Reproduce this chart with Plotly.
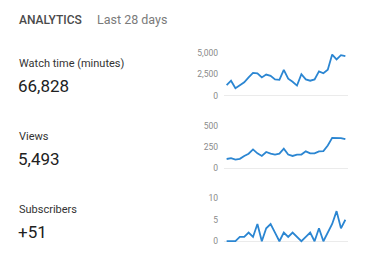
import plotly.graph_objects as go

days = list(range(1, 29))
watch_time = [1210, 1740, 870, 1250, 1550, 2120, 2650, 2610, 2120, 2460, 2310, 1890,
              1850, 3020, 1970, 1620, 1170, 2500, 1890, 1740, 1890, 2840, 2610, 3020,
              4800, 4240, 4730, 4620]
views = [110, 120, 102, 112, 146, 172, 222, 176, 146, 192, 172, 162,
         172, 230, 162, 146, 162, 162, 200, 176, 176, 200, 203, 268,
         358, 355, 355, 342]
subscribers = [0, 0, 0, 1, 1, 2, 1, 4, 0, 3, 4, 2, 0, 2, 1, 2, 1, 0, 1, 2,
               0, 3, 0, 2, 4, 7, 3, 5]

metric_names = ["Watch time (minutes)", "Views", "Subscribers"]
metric_totals = ["66,828", "5,493", "+51"]
tick_values = [[0, 2500, 5000], [0, 250, 500], [0, 5, 10]]
series = [watch_time, views, subscribers]

W, H = 370, 275
BLUE = "#2b86d2"
FONT = "Roboto"

fig = go.Figure()

x0_px, x1_px = 224, 348
row_top = [49.3, 124.3, 199.0]
row_zero = [93.3, 168.3, 243.3]
pad = 2.0

for i, (ys, tv) in enumerate(zip(series, tick_values)):
    top = tv[-1]
    span_px = row_zero[i] - row_top[i]
    lo = -top * pad / span_px
    bottom_px = row_zero[i] + pad
    dom = [1 - bottom_px / H, 1 - row_top[i] / H]
    xa = "x" if i == 0 else f"x{i+1}"
    ya = "y" if i == 0 else f"y{i+1}"
    fig.add_trace(go.Scatter(x=days, y=ys, mode="lines",
                             line=dict(color=BLUE, width=1.8),
                             xaxis=xa, yaxis=ya, showlegend=False,
                             hoverinfo="skip"))
    xkey = "xaxis" if i == 0 else f"xaxis{i+1}"
    ykey = "yaxis" if i == 0 else f"yaxis{i+1}"
    fig.update_layout({
        xkey: dict(domain=[x0_px / W, x1_px / W], range=[0.4, 28.6],
                   showgrid=False, zeroline=False, showticklabels=False,
                   showline=False, anchor=ya, fixedrange=True),
        ykey: dict(domain=dom, range=[lo, top], tickvals=tv,
                   tickformat=",", showgrid=False, zeroline=True,
                   zerolinecolor="#ebebeb", zerolinewidth=1,
                   showline=False, ticks="", ticklen=0,
                   ticklabelstandoff=5,
                   tickfont=dict(family=FONT, size=8.5, color="#8a8a8a"),
                   anchor=xa, fixedrange=True),
    })

ann = []
ann.append(dict(x=17 / W, y=1 - 15 / H, text="ANALYTICS",
                font=dict(family=FONT, size=12, color="#4a4a4a", weight=500)))
ann.append(dict(x=95 / W, y=1 - 15 / H, text="Last 28 days",
                font=dict(family=FONT, size=12.5, color="#7a7a7a")))
for i in range(3):
    base = 75 * i
    ann.append(dict(x=17 / W, y=1 - (60.5 + base) / H, text=metric_names[i],
                    font=dict(family=FONT, size=11, color="#333333")))
    ann.append(dict(x=16 / W, y=1 - (83.5 + base) / H, text=metric_totals[i],
                    font=dict(family=FONT, size=17, color="#212121")))
for a in ann:
    a.update(xref="paper", yref="paper", xanchor="left", yanchor="middle",
             showarrow=False)

fig.update_layout(width=W, height=H, margin=dict(l=0, r=0, t=0, b=0),
                  paper_bgcolor="white", plot_bgcolor="white",
                  annotations=ann)

fig.write_html("out.html")
